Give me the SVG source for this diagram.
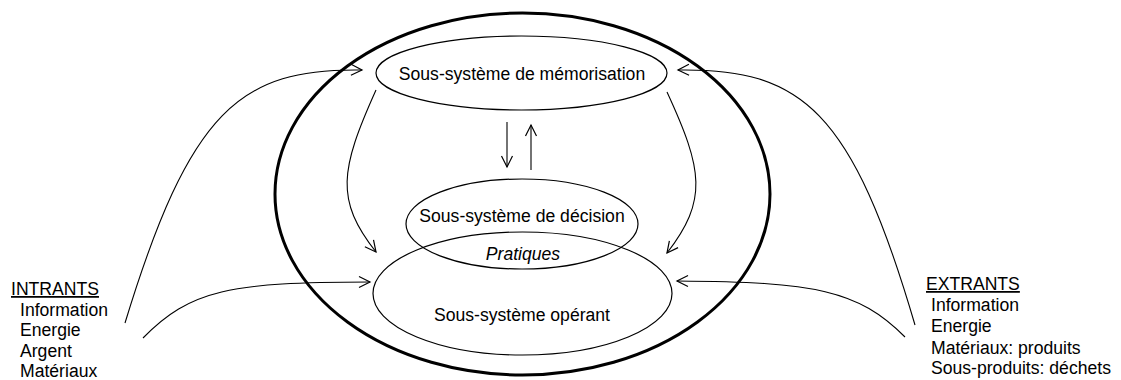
<svg xmlns="http://www.w3.org/2000/svg" width="1121" height="380" viewBox="0 0 1121 380">
<style>
  text { font-family: "Liberation Sans", Arial, sans-serif; font-size: 17.6px; fill: #000; }
  .c { text-anchor: middle; }
  .sub { fill: none; stroke: #000; stroke-width: 1.2; }
  .big { fill: none; stroke: #000; stroke-width: 3; }
  .con { fill: none; stroke: #000; stroke-width: 1.1; marker-end: url(#arr); }
</style>
<defs>
  <marker id="arr" markerUnits="userSpaceOnUse" markerWidth="14" markerHeight="14" viewBox="0 0 14 14" refX="12" refY="7" orient="auto">
    <path d="M1,1.5 L12,7 L1,12.5" fill="none" stroke="#000" stroke-width="1.2"/>
  </marker>
</defs>
<rect width="1121" height="380" fill="#fff"/>
<g id="systeme">
  <ellipse class="big" cx="522.5" cy="194" rx="247.5" ry="181"/>
</g>
<g id="memorisation">
  <ellipse class="sub" cx="521.5" cy="73" rx="145.5" ry="37"/>
  <text class="c" x="522" y="80">Sous-système de mémorisation</text>
</g>
<g id="operant">
  <ellipse class="sub" cx="522.5" cy="293.5" rx="149.5" ry="61.5"/>
  <text class="c" x="522" y="321">Sous-système opérant</text>
</g>
<g id="decision">
  <ellipse class="sub" cx="522" cy="224" rx="116" ry="45"/>
  <text class="c" x="522" y="222">Sous-système de décision</text>
  <text class="c" x="523" y="260" font-style="italic">Pratiques</text>
</g>
<g id="intrants">
  <text x="11" y="295" text-decoration="underline">INTRANTS</text>
  <text x="20" y="315.5">Information</text>
  <text x="20" y="336">Energie</text>
  <text x="20" y="356.5">Argent</text>
  <text x="20" y="377">Matériaux</text>
</g>
<g id="extrants">
  <text x="926" y="290" text-decoration="underline">EXTRANTS</text>
  <text x="931" y="311">Information</text>
  <text x="931" y="332">Energie</text>
  <text x="931" y="353.5">Matériaux: produits</text>
  <text x="931" y="374">Sous-produits: déchets</text>
</g>
<g id="connecteurs">
  <path class="con" d="M125,323 C190,110 240,68 362,70"/>
  <path class="con" d="M143,338 C190,290 230,282 370,282"/>
  <path class="con" d="M376,90 C340,170 335,200 376,252"/>
  <path class="con" d="M667,92 C703,170 708,200 667,253"/>
  <path class="con" d="M915,325 C852,110 802,68 678,70"/>
  <path class="con" d="M905,337 C858,290 815,282 677,281"/>
  <path class="con" d="M507,122 L507,167"/>
  <path class="con" d="M531,170 L531,125"/>
</g>
</svg>
